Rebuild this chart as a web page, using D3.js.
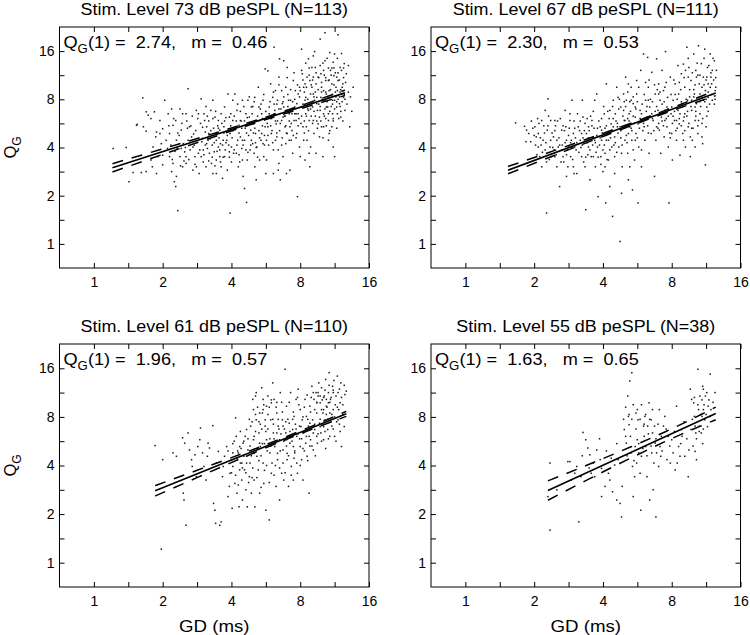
<!DOCTYPE html>
<html><head><meta charset="utf-8">
<script src="https://cdn.jsdelivr.net/npm/d3@7"></script>
<style>body{margin:0;background:#fff}svg{display:block;font-family:"Liberation Sans",Arial,Helvetica,sans-serif}</style>
</head><body><svg id="c" width="750" height="635"></svg>
<script>
// ---------------- DATA ----------------
const titles = ["Stim. Level 73 dB peSPL (N=113)","Stim. Level 67 dB peSPL (N=111)","Stim. Level 61 dB peSPL (N=110)","Stim. Level 55 dB peSPL (N=38)"];
const qg1 = [2.74, 2.30, 1.96, 1.63];          // Q_G(1)
const slopes = [0.46, 0.53, 0.57, 0.65];        // m
const q1Labels = ["2.74","2.30","1.96","1.63"];
const mLabels = ["0.46","0.53","0.57","0.65"];
// fit extent, log2(GD)
const fitLog2GD = [[0.27,3.65],[0.62,3.64],[0.89,3.67],[1.20,3.64]];
// confidence band half-width (log2 units) read at these log2(GD)
const bandLog2GD = [[0.27,1.0,1.8,2.5,3.1,3.65],[0.62,1.3,2.0,2.6,3.1,3.64],[0.89,1.5,2.2,2.9,3.3,3.67],[1.20,1.8,2.4,2.9,3.3,3.64]];
const bandHalf = [[0.086,0.058,0.035,0.026,0.035,0.055],[0.076,0.05,0.032,0.026,0.033,0.055],[0.107,0.075,0.042,0.028,0.035,0.052],[0.2,0.15,0.115,0.1,0.11,0.13]];
const xTickValues = [1,2,4,8,16];
const yTickValues = [1,2,4,8,16];

// scatter points [log2 GD, log2 QG]
const pts73 = [[0.28,1.98],[0.47,2.00],[0.51,1.29],[0.57,1.48],[0.62,2.46],[0.63,2.48],[0.69,1.48],[0.71,3.03],
[0.72,2.43],[0.76,2.34],[0.79,2.67],[0.83,2.60],[0.88,2.74],[0.91,2.32],[0.96,2.29],[0.98,2.08],[0.86,2.01],[0.93,1.81],[1.00,1.84],[0.85,1.60],[0.91,1.46],[0.76,1.50],[1.03,2.98],[1.00,2.39],[0.83,1.74],[1.00,1.64],[0.90,2.22],[0.96,2.56],[0.76,2.74],
[1.08,2.70],[1.13,2.80],[1.15,2.46],[1.19,2.56],[1.20,2.15],[1.25,2.80],[1.27,2.36],[1.30,2.08],[1.32,1.91],[1.34,1.81],[1.10,1.81],[1.13,1.50],[1.17,1.29],[1.19,1.19],[1.20,1.40],[1.22,0.69],[1.25,1.81],[1.29,1.60],[1.34,2.70],[1.37,3.22],[1.39,2.43],[1.42,2.22],[1.44,2.01],[1.47,1.81],[1.49,1.60],[1.51,2.60],[1.53,1.46],[1.07,1.98],[1.15,1.67],[1.27,1.98],[1.37,2.15],[1.34,1.67],[1.44,1.53],[1.49,2.77],[1.10,2.29],
[1.56,3.01],[1.60,2.70],[1.64,2.43],[1.66,2.15],[1.68,1.88],[1.71,1.67],[1.73,1.46],[1.76,2.63],[1.78,2.29],[1.81,2.01],[1.83,1.81],[1.85,1.60],[1.87,1.36],[1.89,2.43],[1.90,2.84],[1.93,2.15],[1.95,3.11],[1.97,1.91],[1.98,0.64],[2.00,1.70],[1.59,1.95],[1.63,1.60],[1.67,2.29],[1.75,1.91],[1.78,1.74],[1.84,2.08],[1.90,1.81],[1.98,2.29],[2.02,2.56],[1.58,2.19],[1.73,2.98],[1.83,2.36],[1.94,1.53],[2.00,2.01],[1.64,2.08],[1.78,1.46],[1.88,2.15],[1.61,2.56],[1.70,2.77],[1.97,2.63],[2.02,2.98],[1.56,1.81],[1.81,2.56],
[2.05,3.11],[2.08,2.77],[2.11,2.46],[2.13,2.22],[2.15,1.98],[2.16,1.74],[2.17,1.40],[2.19,1.15],[2.22,0.86],[2.24,2.98],[2.26,2.63],[2.28,2.36],[2.31,2.08],[2.33,1.88],[2.34,1.60],[2.36,1.33],[2.39,3.25],[2.40,2.84],[2.41,2.56],[2.44,2.29],[2.46,2.08],[2.47,1.81],[2.49,3.63],[2.50,1.46],[2.07,1.88],[2.13,2.56],[2.19,2.15],[2.23,1.74],[2.29,2.84],[2.32,2.49],[2.37,2.01],[2.44,2.70],[2.46,2.98],[2.21,2.70],[2.34,3.04],[2.27,1.95],[2.10,1.60],[2.41,1.74],[2.49,2.43],[2.35,2.29],[2.16,2.98],[2.51,2.15],
[2.53,3.59],[2.57,3.32],[2.60,3.04],[2.62,4.08],[2.63,2.77],[2.65,2.49],[2.66,2.22],[2.68,1.95],[2.69,1.67],[2.70,3.84],[2.71,1.33],[2.73,3.18],[2.74,2.91],[2.75,2.63],[2.76,3.80],[2.78,2.43],[2.79,2.08],[2.80,1.46],[2.81,3.66],[2.83,2.98],[2.84,2.70],[2.85,2.43],[2.87,2.15],[2.89,1.88],[2.90,3.39],[2.92,2.84],[2.94,2.56],[2.95,2.29],[2.96,0.98],[2.97,3.11],[2.99,2.01],[2.55,2.84],[2.58,2.29],[2.61,1.95],[2.67,2.98],[2.69,3.46],[2.75,1.81],[2.81,2.29],[2.86,2.98],[2.91,2.56],[2.53,2.43],[2.61,1.46],[2.73,2.56],[2.79,3.25],[2.84,2.15],[2.93,3.18],[2.97,2.70],[2.57,2.63],[2.64,3.18],[2.76,2.84],[2.88,2.70],[2.95,2.91],[3.00,3.18],[2.51,1.74],[2.68,1.53],[2.85,1.53],
[3.02,4.04],[3.03,3.53],[3.05,3.25],[3.07,2.98],[3.08,2.70],[3.09,2.43],[3.10,2.15],[3.12,3.84],[3.13,1.88],[3.14,3.39],[3.15,3.11],[3.17,3.66],[3.18,2.84],[3.19,2.56],[3.20,2.29],[3.21,3.99],[3.23,3.32],[3.24,3.04],[3.25,2.77],[3.26,2.49],[3.28,2.22],[3.29,4.25],[3.30,3.53],[3.31,3.25],[3.33,2.98],[3.34,2.70],[3.34,2.43],[3.36,4.38],[3.36,3.80],[3.37,3.39],[3.38,3.11],[3.40,2.84],[3.41,2.56],[3.42,2.29],[3.43,3.97],[3.44,3.60],[3.46,3.32],[3.47,2.98],[3.48,3.77],[3.48,2.01],[3.04,2.43],[3.07,3.32],[3.12,2.77],[3.17,3.25],[3.21,2.98],[3.26,3.46],[3.29,2.77],[3.31,2.43],[3.34,3.18],[3.38,2.84],[3.41,3.39],[3.43,3.04],[3.47,2.70],[3.02,2.84],[3.08,3.04],[3.13,2.56],[3.19,3.11],[3.24,2.91],[3.30,3.04],[3.36,2.98],[3.42,3.18],[3.10,3.46],[3.22,3.66],[3.34,3.60],[3.05,2.15],[3.15,2.01],[3.23,1.88],[3.33,1.81],[3.41,2.15],[3.28,2.63],[3.17,2.91],[3.46,2.43],[3.37,2.60],[3.19,3.46],[3.00,1.81],[3.07,1.74],[3.14,1.60],
[3.50,3.94],[3.53,3.46],[3.54,3.18],[3.55,4.34],[3.57,2.91],[3.58,3.66],[3.59,2.63],[3.60,3.95],[3.62,3.32],[3.63,3.04],[3.64,3.74],[3.65,2.77],[3.67,3.53],[3.70,3.15],[3.72,2.43],[3.77,3.25],[3.50,2.98],[3.52,3.25],[3.55,3.39],[3.54,2.70],[3.58,3.15],[3.49,3.49],[3.53,2.84],[3.48,2.60],[3.50,1.81],
[1.12,2.05],[1.18,1.92],[1.22,2.30],[1.28,2.50],[1.31,1.72],[1.36,2.40],[1.40,1.95],[1.43,2.65],[1.46,2.05],[1.48,2.35],[1.52,1.88],[1.55,2.50],[1.57,2.12],[1.59,1.70],[1.62,2.32],[1.63,2.85],[1.65,1.98],[1.67,2.55],[1.69,2.18],[1.72,1.80],[1.74,2.40],[1.75,2.10],[1.77,2.75],[1.79,1.92],[1.80,2.45],[1.82,2.20],[1.84,1.70],[1.86,2.50],[1.87,2.05],[1.89,2.30],[1.91,1.95],[1.92,2.62],[1.94,2.25],[1.96,2.05],[1.99,2.45],[2.01,2.20],[2.03,1.88],[2.04,2.65],[2.06,2.40],[2.08,2.05],[2.09,2.90],[2.11,2.30],[2.12,1.70],[2.14,2.55],[2.16,2.15],[2.18,2.85],[2.20,2.40],[2.21,1.95],[2.23,2.62],[2.25,2.25],[2.26,3.05],[2.28,2.05],[2.30,2.70],[2.32,2.30],[2.33,2.95],[2.35,2.10],[2.37,2.55],[2.38,1.80],[2.40,2.35],[2.42,2.80],[2.43,2.15],[2.45,2.60],[2.47,3.10],[2.48,2.25],[2.50,2.75],[2.52,2.50],[2.54,2.05],[2.56,2.95],[2.58,2.60],[2.59,2.35],[2.61,3.15],[2.62,2.70],[2.64,2.15],[2.66,2.90],[2.67,2.55],[2.69,3.30],[2.70,2.35],[2.72,2.80],[2.74,2.20],[2.76,3.05],[2.77,2.65],[2.79,2.45],[2.81,3.45],[2.82,2.85],[2.84,2.55],[2.86,3.20],[2.88,2.35],[2.89,2.95],[2.91,3.55],[2.92,2.70],[2.94,2.20],[2.96,3.30],[2.98,2.60],[2.99,3.05],
[3.01,2.50],[3.02,3.60],[3.04,2.90],[3.06,2.30],[3.06,3.15],[3.08,3.75],[3.09,2.65],[3.11,3.00],[3.12,2.35],[3.13,3.50],[3.15,2.80],[3.16,3.30],[3.18,2.50],[3.19,3.90],[3.20,3.05],[3.22,2.65],[3.23,3.55],[3.25,2.40],[3.26,3.20],[3.27,2.90],[3.29,3.70],[3.30,2.55],[3.31,3.35],[3.32,3.00],[3.33,2.20],[3.35,3.50],[3.36,2.80],[3.37,3.15],[3.38,2.45],[3.39,3.85],[3.40,3.05],[3.41,2.70],[3.42,3.40],[3.43,2.35],[3.44,3.20],[3.45,2.85],[3.46,3.65],[3.47,3.10],[3.48,2.55],[3.49,3.30],[3.50,2.80],[3.51,3.55],[3.52,3.05],[3.53,2.40],[3.54,3.85],[3.55,3.00],[3.56,2.60],[3.57,3.40],[3.58,2.85],[3.59,3.20],[3.60,3.60],[3.61,2.95],[3.62,2.55],[3.63,3.45],[3.64,3.10],[3.66,3.35],[3.68,2.90],[3.70,3.70],[3.73,3.05],[3.75,2.75],
[1.05,2.15],[1.09,2.45],[1.14,1.75],[1.16,2.60],[1.21,1.98],[1.24,2.25],[1.26,1.62],[1.29,2.70],[1.33,2.00],[1.35,2.55],[1.38,1.75],[1.41,2.45],[1.45,2.28],[1.47,1.65],[1.50,2.10],[1.52,2.70],[1.54,1.95],[1.58,2.42],[1.60,1.85],[1.62,2.05],[1.65,2.65],[1.67,1.72],[1.70,2.35],[1.72,2.05],[1.73,2.60],[1.76,1.62],[1.78,2.15],[1.81,2.40],[1.83,1.95],[1.85,2.70],[1.88,1.80],[1.90,2.55],[1.92,2.10],[1.95,2.35],[1.97,1.80],[1.99,2.70],[2.02,2.35],[2.04,1.95],[2.07,2.55],[2.09,2.15],[2.11,1.85],[2.13,2.75],[2.15,2.40],[2.17,2.05],[2.19,2.55],[2.22,2.30],[2.24,1.90],[2.27,2.50],[2.29,2.15],[2.31,2.85],[2.34,2.40],[2.36,2.00],[2.38,2.65],[2.41,2.20],[2.43,2.90],[2.45,2.45],[2.48,2.05],[2.50,2.60],[2.53,2.25],[2.55,2.70],[2.57,2.45],[2.60,2.10],[2.62,2.90],[2.64,2.55],[2.66,2.30],[2.69,2.80],[2.71,2.50],[2.73,2.05],[2.75,2.95],[2.78,2.65],[2.80,2.30],[2.82,3.10],[2.85,2.75],[2.87,2.50],[2.90,2.25],[2.92,3.00],[2.94,2.70],[2.97,2.45],[2.99,3.25],[3.02,2.65],[3.04,3.40],[3.06,2.55],[3.09,3.25],[3.11,2.80],[3.13,3.65],[3.16,2.65],[3.18,3.40],[3.20,2.75],[3.22,3.15],[3.24,2.55],[3.27,3.45],[3.29,2.85],[3.31,3.15],[3.33,3.75],[3.35,2.65],[3.37,3.45],[3.39,2.95],[3.41,3.65],[3.43,2.75],[3.45,3.50],[3.47,2.90],[3.49,3.65],[3.51,3.15],[3.53,2.95],[3.55,3.55],[3.57,3.05],[3.59,2.75],[3.61,3.25],[3.63,3.65],[3.65,3.00]];

const pts67 = [[0.73,2.51],[0.86,2.44],[0.89,2.36],[0.88,2.12],[0.92,2.29],[0.96,2.55],[1.01,2.43],[1.03,2.22],[1.06,2.01],[1.08,1.81],[1.11,2.56],[1.13,2.15],[1.16,2.77],[1.18,0.64],[1.19,2.36],[1.20,3.01],[1.23,2.01],[1.25,1.81],[1.28,2.22],[1.30,2.56],[1.33,1.60],[1.35,2.01],[1.37,1.19],[1.40,2.36],[1.42,1.81],[1.45,2.77],[1.47,2.15],[1.49,1.60],[1.50,2.01],[1.52,2.56],[1.53,1.81],[1.55,2.98],[1.57,2.29],[1.58,1.46],[0.95,2.12],[1.06,2.29],[1.16,1.95],[1.24,2.56],[1.33,2.15],[1.40,1.95],[1.46,2.43],[1.54,2.15],[1.11,1.60],[1.30,1.81],[1.47,1.40],[1.59,2.01],
[1.62,1.46],[1.64,2.43],[1.67,2.15],[1.69,1.81],[1.70,2.98],[1.71,2.63],[1.74,1.60],[1.75,0.71],[1.76,2.29],[1.79,2.01],[1.81,1.33],[1.83,1.81],[1.84,2.56],[1.86,2.22],[1.88,2.98],[1.89,1.60],[1.91,3.11],[1.92,2.01],[1.93,0.98],[1.96,2.43],[1.97,1.81],[1.98,2.15],[2.00,1.50],[2.02,2.70],[2.03,1.88],[2.04,0.85],[2.05,3.32],[2.07,2.29],[2.08,1.74],[2.10,1.19],[2.12,2.49],[2.13,2.01],[2.14,0.57],[2.15,2.98],[2.17,2.22],[2.17,1.81],[2.18,2.70],[2.20,3.25],[2.21,2.43],[2.23,2.01],[2.25,0.05],[2.26,2.84],[2.27,1.05],[2.28,1.60],[2.30,3.11],[2.31,2.56],[2.32,2.15],[2.33,3.46],[2.34,2.98],[2.36,1.88],[2.37,1.33],[2.38,2.70],[2.39,2.43],[2.41,3.25],[2.42,2.15],[2.43,1.12],[2.44,2.91],[2.46,1.74],[2.47,2.63],[2.48,2.29],[2.49,3.11],[2.51,0.85],[2.52,2.01],[2.54,2.77],[2.55,3.60],[2.56,1.60],[1.79,2.43],[1.88,2.15],[2.08,2.15],[2.17,1.46],[2.25,2.43],[2.37,2.29],[2.44,1.95],[2.51,2.49],[2.10,2.77],[2.30,2.77],[2.41,2.98],[1.69,2.29],[1.98,2.36],[2.15,2.43],[2.32,2.56],[2.47,2.84],[1.86,1.81],[2.03,1.60],[2.27,1.88],[2.39,1.60],[2.56,1.95],[2.22,3.04],[2.37,3.32],[2.49,3.39],
[2.59,3.94],[2.60,2.43],[2.61,2.15],[2.62,2.98],[2.64,2.63],[2.65,3.87],[2.66,3.25],[2.67,1.88],[2.68,2.84],[2.70,2.29],[2.71,3.56],[2.73,2.56],[2.75,1.40],[2.76,3.11],[2.77,2.15],[2.78,3.84],[2.80,2.77],[2.81,3.32],[2.82,2.36],[2.83,2.98],[2.84,1.88],[2.85,2.63],[2.86,3.60],[2.88,3.18],[2.89,2.22],[2.90,2.77],[2.91,3.99],[2.93,2.43],[2.94,3.04],[2.95,2.01],[2.96,0.85],[2.98,3.46],[2.99,2.70],[3.00,2.29],[3.01,1.74],[3.02,2.98],[3.04,2.56],[3.05,3.32],[3.07,2.15],[3.09,2.77],[3.10,3.11],[3.11,2.49],[3.12,1.84],[3.14,3.53],[3.15,2.91],[3.16,2.29],[3.17,3.73],[3.18,2.63],[3.19,3.25],[3.20,2.01],[3.22,4.08],[3.23,2.98],[3.24,2.43],[3.25,3.66],[3.27,1.81],[3.28,3.39],[3.29,2.77],[3.30,2.15],[3.32,3.94],[3.33,3.11],[3.34,2.56],[3.35,3.60],[3.36,2.91],[3.38,2.29],[3.39,4.11],[3.40,3.32],[3.41,2.70],[3.43,3.74],[3.44,3.04],[3.45,2.08],[3.46,3.46],[3.48,4.04],[3.49,3.18],[3.50,2.43],[3.51,2.84],[3.52,3.66],[3.53,3.32],[3.56,3.94],[3.57,3.46],[3.59,2.98],[3.62,3.80],[3.64,3.25],[3.49,1.64],[3.34,2.01],[3.19,2.70],[3.29,2.98],[3.39,2.56],[3.46,2.98],[3.24,3.46],[3.36,3.46],[3.51,3.46],[3.58,3.32],[3.07,2.56],[3.17,2.15],[3.27,2.22],[3.44,2.22],[3.00,2.84],[3.12,2.70],[3.34,2.84],[3.41,3.11],[3.53,3.04],[2.66,2.98],[2.81,3.11],[2.93,2.84],[2.78,2.43],[2.90,2.56],[2.71,2.70],
[0.98,2.40],[1.02,2.05],[1.05,2.60],[1.09,2.20],[1.12,1.90],[1.14,2.45],[1.17,2.10],[1.21,2.65],[1.22,1.75],[1.26,2.30],[1.27,2.00],[1.31,2.45],[1.32,1.85],[1.36,2.20],[1.38,2.60],[1.41,2.05],[1.43,1.70],[1.44,2.35],[1.48,1.95],[1.51,2.40],[1.53,2.10],[1.56,1.75],[1.58,2.55],[1.60,2.20],[1.61,1.95],[1.63,2.70],[1.66,2.35],[1.68,2.00],[1.71,2.20],[1.72,1.70],[1.74,2.50],[1.77,2.10],[1.78,1.85],[1.80,2.35],[1.82,2.65],[1.85,2.05],[1.87,2.40],[1.90,1.90],[1.91,2.25],[1.94,2.55],[1.95,2.05],[1.97,1.65],[1.99,2.30],[2.01,2.85],[2.02,2.05],[2.05,2.45],[2.06,1.75],[2.09,2.60],[2.11,2.20],[2.14,2.85],[2.16,2.05],[2.19,2.55],[2.20,1.90],[2.22,2.30],[2.24,3.00],[2.26,2.20],[2.29,2.65],[2.31,2.40],[2.33,2.85],[2.35,2.10],[2.36,3.15],[2.38,2.55],[2.40,2.75],[2.42,2.35],[2.44,3.05],[2.46,2.50],[2.48,2.80],[2.50,2.20],[2.52,3.25],[2.54,2.60],[2.57,2.90],[2.58,2.35],[2.60,3.10],[2.63,2.75],[2.65,2.45],[2.67,3.40],[2.69,2.65],[2.72,2.95],[2.74,2.35],[2.76,2.75],[2.79,3.20],[2.81,2.50],[2.83,2.70],[2.86,2.90],[2.88,2.45],[2.90,3.25],[2.92,2.60],[2.95,2.80],[2.97,2.30],[2.99,3.10],
[3.01,2.50],[3.03,3.40],[3.04,2.75],[3.06,2.35],[3.08,3.00],[3.09,3.70],[3.11,2.60],[3.13,3.20],[3.14,2.45],[3.16,2.85],[3.18,3.45],[3.19,2.35],[3.21,3.00],[3.22,2.65],[3.24,3.85],[3.25,2.50],[3.26,3.20],[3.28,2.85],[3.30,3.55],[3.31,2.40],[3.32,3.05],[3.34,3.30],[3.35,2.65],[3.37,3.75],[3.38,2.45],[3.39,3.00],[3.41,3.50],[3.42,2.85],[3.44,3.25],[3.45,2.60],[3.47,3.85],[3.48,2.95],[3.50,3.40],[3.51,2.65],[3.53,3.15],[3.54,3.70],[3.55,2.90],[3.57,3.55],[3.58,3.10],[3.60,3.85],[3.61,3.40],[3.63,3.00],[3.65,3.60],
[1.00,2.25],[1.04,1.85],[1.07,2.50],[1.10,2.05],[1.15,2.30],[1.18,1.70],[1.20,2.45],[1.24,2.15],[1.29,1.95],[1.30,2.35],[1.34,2.55],[1.37,2.05],[1.39,1.70],[1.42,2.45],[1.45,2.10],[1.47,1.85],[1.50,2.25],[1.52,2.70],[1.55,2.00],[1.57,1.60],[1.59,2.40],[1.62,2.10],[1.65,1.90],[1.67,2.55],[1.70,2.05],[1.73,2.35],[1.75,1.80],[1.77,2.60],[1.79,2.20],[1.81,1.95],[1.84,2.45],[1.86,2.75],[1.89,2.10],[1.92,2.40],[1.93,1.80],[1.96,2.20],[1.98,2.60],[2.00,1.95],[2.03,2.40],[2.05,2.15],[2.07,2.75],[2.10,1.95],[2.12,2.35],[2.15,2.60],[2.18,2.10],[2.21,2.50],[2.23,2.80],[2.26,2.35],[2.28,2.05],[2.31,2.95],[2.34,2.25],[2.36,2.60],[2.39,2.95],[2.41,2.40],[2.44,2.65],[2.47,2.15],[2.50,2.95],[2.53,2.40],[2.56,2.70],[2.59,2.50],[2.62,3.35],[2.64,2.85],[2.66,2.30],[2.69,3.00],[2.72,2.60],[2.75,3.30],[2.78,2.85],[2.80,2.40],[2.83,3.15],[2.86,2.55],[2.89,2.95],[2.92,3.35],[2.95,2.65],[2.98,2.20],[3.02,2.65],[3.05,3.10],[3.08,2.40],[3.11,3.35],[3.14,2.95],[3.17,2.55],[3.20,3.60],[3.23,2.75],[3.26,3.05],[3.29,2.40],[3.32,3.20],[3.35,2.75],[3.38,3.50],[3.41,2.95],[3.44,2.50],[3.47,3.30],[3.50,3.00],[3.53,2.75],[3.56,3.25],[3.59,3.60],[3.62,2.90],[3.64,3.45]];

const pts61 = [[0.89,2.41],[1.00,2.12],[0.98,0.28],[1.15,2.26],[1.20,2.19],[1.29,2.57],[1.30,1.43],[1.31,1.29],[1.32,2.46],[1.34,0.77],[1.37,2.67],[1.39,2.32],[1.42,2.12],[1.43,1.98],[1.47,2.22],[1.49,1.77],[1.51,2.39],[1.54,2.53],[1.55,2.77],[1.58,2.26],[1.60,1.98],[1.63,1.70],[1.65,2.19],[1.66,2.46],[1.68,2.36],[1.73,2.82],[1.74,1.22],[1.76,1.08],[1.77,0.81],[1.78,2.05],[1.81,2.29],[1.83,0.77],[1.85,0.84],[1.87,1.77],[1.88,1.98],[1.90,2.19],[1.93,2.39],[1.95,1.36],[1.97,1.57],[1.98,1.84],[2.00,2.12],[2.01,1.12],[2.02,1.98],[2.05,1.63],[2.06,2.98],[2.07,2.60],[2.08,1.43],[2.10,2.26],[2.11,1.15],[2.12,1.91],[2.13,2.05],[2.15,1.70],[2.16,1.29],[2.17,2.46],[2.18,2.19],[2.19,1.91],[2.21,1.50],[2.22,2.74],[2.23,1.15],[2.24,2.32],[2.26,1.77],[2.27,2.05],[2.28,2.81],[2.29,1.43],[2.31,3.36],[2.32,2.53],[2.33,1.70],[2.34,1.15],[2.35,3.43],[2.36,2.94],[2.37,2.19],[2.39,1.91],[2.40,2.67],[2.41,1.43],[2.42,2.39],[2.44,3.60],[2.45,3.08],[2.46,2.05],[2.47,1.63],[2.49,2.81],[2.50,1.08],[2.51,2.53],[2.53,3.43],[2.55,0.88],[2.56,2.26],[2.57,2.94],[2.58,1.84],[2.60,3.70],[2.61,2.67],[2.62,3.36],[2.63,2.39],[2.65,1.57],[2.66,3.08],[2.67,2.12],[2.68,2.81],[2.70,1.29],[2.70,2.53],[2.71,3.50],[2.73,1.84],[2.74,2.94],[2.75,2.32],[2.76,1.70],[2.78,3.98],[2.79,2.67],[2.80,3.22],[2.81,2.12],[2.83,1.57],[2.84,2.87],[2.85,2.46],[2.86,3.50],[2.87,1.98],[2.89,2.74],[2.90,1.70],[2.91,3.01],[2.92,2.26],[2.94,3.36],[2.95,2.60],[2.96,1.84],[2.97,3.57],[2.99,2.81],[3.00,2.39],[3.00,3.15],[3.02,2.12],[3.03,2.94],[3.04,1.70],[3.05,2.67],[3.07,3.36],[3.08,2.46],[3.09,3.01],[3.10,2.19],[3.12,2.81],[3.13,1.43],[3.14,3.22],[3.15,2.53],[3.17,3.63],[3.18,2.94],[3.19,2.32],[3.20,3.36],[3.21,2.74],[3.23,3.50],[3.24,3.08],[3.25,2.46],[3.26,3.43],[3.28,2.87],[3.29,3.29],[3.30,2.67],[3.31,3.60],[3.33,3.08],[3.34,2.53],[3.35,3.43],[3.36,2.94],[3.37,3.77],[3.38,3.22],[3.40,2.74],[3.41,3.50],[3.42,3.91],[3.43,3.08],[3.44,3.36],[3.46,2.81],[3.47,3.63],[3.48,3.15],[3.50,2.60],[3.52,3.43],[3.54,3.84],[3.55,2.94],[3.57,3.57],[3.58,3.29],[3.60,2.39],[3.65,3.46],[3.67,3.53],[3.14,2.87],[3.24,3.29],[3.34,3.15],[3.41,3.29],[3.48,3.50],[3.29,3.43],[3.19,2.67],[3.38,3.36],[2.36,3.50],[2.46,3.36],[2.51,3.22],[2.32,3.15],[2.41,3.08],[2.49,2.94],[2.58,3.29],[2.66,2.67],[2.80,2.53],[2.90,2.39],[2.75,2.81],[2.41,2.46],[2.22,2.19],[2.12,2.39],[2.02,2.26],[2.32,2.26],
[1.95,2.30],[2.00,1.85],[2.04,2.50],[2.08,2.15],[2.10,1.60],[2.14,2.35],[2.16,1.95],[2.20,2.60],[2.22,2.05],[2.25,1.65],[2.27,2.40],[2.30,2.90],[2.31,1.95],[2.33,2.25],[2.35,2.70],[2.37,1.75],[2.38,3.20],[2.40,2.10],[2.42,2.85],[2.43,1.55],[2.45,2.45],[2.47,3.25],[2.48,1.90],[2.50,2.70],[2.52,2.30],[2.53,3.05],[2.55,1.65],[2.56,2.55],[2.58,3.35],[2.59,2.05],[2.61,2.85],[2.62,1.80],[2.64,2.45],[2.65,3.20],[2.67,2.25],[2.68,2.95],[2.70,1.95],[2.72,2.65],[2.73,3.30],[2.75,2.05],[2.77,2.75],[2.78,1.85],[2.80,2.40],[2.82,2.95],[2.83,2.20],[2.85,2.70],[2.87,1.80],[2.88,2.50],[2.90,3.10],[2.92,2.30],[2.93,2.85],[2.95,2.05],[2.97,2.65],[2.98,3.25],[3.00,2.00],[3.02,2.55],[3.04,3.00],[3.06,2.30],[3.08,2.75],[3.10,3.45],[3.11,2.10],[3.13,2.60],[3.15,3.10],[3.17,2.40],[3.19,3.50],[3.21,2.85],[3.22,2.20],[3.24,3.30],[3.26,2.65],[3.27,3.70],[3.29,2.95],[3.31,2.50],[3.32,3.35],[3.34,2.80],[3.36,3.55],[3.37,2.35],[3.39,3.20],[3.40,2.95],[3.42,3.65],[3.43,2.60],[3.45,3.40],[3.46,3.05],[3.48,2.75],[3.49,3.75],[3.51,3.25],[3.53,2.90],[3.55,3.50],[3.56,3.15],[3.58,2.70],[3.60,3.40],[3.62,3.05],[3.64,3.65],
[2.02,2.45],[2.06,1.80],[2.09,2.30],[2.13,2.70],[2.15,2.05],[2.18,2.50],[2.21,1.85],[2.24,2.55],[2.26,2.95],[2.29,2.20],[2.30,1.75],[2.33,2.60],[2.35,3.05],[2.38,2.35],[2.40,2.90],[2.43,2.20],[2.44,2.75],[2.46,3.15],[2.48,2.45],[2.51,2.00],[2.53,2.75],[2.55,3.20],[2.57,2.40],[2.60,2.95],[2.62,2.55],[2.64,2.00],[2.66,3.30],[2.69,2.75],[2.71,2.30],[2.74,3.10],[2.76,2.50],[2.79,2.90],[2.81,2.25],[2.84,3.30],[2.86,2.60],[2.89,2.95],[2.91,2.15],[2.94,2.75],[2.96,3.40],[2.99,2.55],[3.01,2.80],[3.04,2.35],[3.06,3.20],[3.09,2.60],[3.11,2.95],[3.14,2.40],[3.16,3.40],[3.19,2.80],[3.21,3.15],[3.24,2.60],[3.26,3.50],[3.29,2.80],[3.31,3.15],[3.34,3.40],[3.36,2.70],[3.38,3.05],[3.41,2.55],[3.43,3.30],[3.45,2.90],[3.48,3.55],[3.50,3.00],[3.52,2.50],[3.54,3.20],[3.57,2.85],[3.59,3.70],[3.62,3.25],[3.64,2.80]];

const pts55 = [[1.23,2.05],[1.23,0.67],[1.20,1.36],[1.33,1.50],[1.49,2.08],[1.52,2.08],[1.54,1.70],[1.59,1.84],[1.62,1.98],[1.65,0.84],[1.68,1.77],[1.71,2.68],[1.75,2.53],[1.78,2.36],[1.81,2.22],[1.83,1.84],[1.86,2.05],[1.88,1.77],[1.91,2.32],[1.96,2.12],[1.98,1.94],[1.98,1.36],[2.03,1.57],[2.08,1.84],[2.10,1.70],[2.14,1.46],[2.17,2.01],[2.20,1.29],[2.22,2.12],[2.25,1.22],[2.27,0.94],[2.28,1.57],[2.31,2.74],[2.33,2.60],[2.34,2.46],[2.36,3.43],[2.37,3.01],[2.38,2.84],[2.39,3.74],[2.41,2.26],[2.42,3.91],[2.43,1.98],[2.44,1.36],[2.46,1.77],[2.47,2.39],[2.48,3.08],[2.49,2.05],[2.50,2.53],[2.51,2.94],[2.52,2.26],[2.54,1.84],[2.55,1.08],[2.56,2.19],[2.59,2.81],[2.60,2.60],[2.61,3.01],[2.62,2.39],[2.64,1.77],[2.65,2.81],[2.67,3.29],[2.68,1.29],[2.70,2.94],[2.71,2.26],[2.72,2.67],[2.73,1.50],[2.75,2.81],[2.76,2.46],[2.77,0.94],[2.78,2.26],[2.81,1.98],[2.82,3.15],[2.83,2.39],[2.84,2.19],[2.85,2.60],[2.88,2.81],[2.90,3.01],[2.93,2.12],[2.95,2.60],[2.98,2.05],[3.00,2.53],[3.02,2.26],[3.05,1.91],[3.07,3.22],[3.10,2.39],[3.12,2.19],[3.14,2.74],[3.15,2.60],[3.19,2.19],[3.24,1.77],[3.25,2.32],[3.27,3.57],[3.28,2.74],[3.29,3.36],[3.32,3.29],[3.33,3.01],[3.34,2.81],[3.35,2.67],[3.36,2.12],[3.38,3.98],[3.39,3.15],[3.40,2.81],[3.41,3.43],[3.43,2.67],[3.44,3.01],[3.45,3.63],[3.46,3.15],[3.48,2.94],[3.49,3.43],[3.51,3.50],[3.53,3.22],[3.56,3.01],[3.63,3.50],[3.56,3.88],[3.46,3.57],[3.34,2.29],
[2.30,2.95],[2.33,3.20],[2.35,2.20],[2.38,3.05],[2.40,2.60],[2.42,2.95],[2.44,3.25],[2.45,2.10],[2.48,2.75],[2.50,3.15],[2.52,2.45],[2.54,2.95],[2.56,3.25],[2.58,2.35],[2.60,2.85],[2.62,3.05],[2.64,2.20],[2.66,2.65],[2.68,2.95],[2.70,2.40],[2.72,3.15],[2.74,2.05],[2.77,2.55],[2.80,2.85],[2.86,2.30],[2.92,2.75],[2.97,2.40],[3.04,2.70],[3.08,2.05],[3.13,2.45],[3.18,2.90],[3.22,2.55],[3.30,2.95],[3.33,3.40],[3.36,2.55],[3.38,3.25],[3.40,2.70],[3.42,3.05],[3.44,3.35],[3.46,2.75],[3.47,3.25],[3.50,3.05],[3.52,2.80],[3.54,3.35],[3.57,3.15],[3.60,3.30],[3.45,2.45],[3.31,2.40],[1.95,2.55],[2.05,2.30],[2.12,2.15],[1.70,2.20],[1.80,1.95],[2.20,2.45]];
const allPoints = [pts73, pts67, pts61, pts55];

// ---------------- LAYOUT ----------------
const frames = [
  {x0:59.5, y0:27,  w:309.5, h:241, yLabel:true,  xLabel:false},
  {x0:431,  y0:27,  w:309.5, h:241, yLabel:false, xLabel:false},
  {x0:59.5, y0:344, w:309.5, h:243, yLabel:true,  xLabel:true},
  {x0:431,  y0:344, w:309.5, h:243, yLabel:false, xLabel:true}
];
const svg = d3.select("#c");
const minorLog = d3.range(0, 4.01, 0.5);
const NB = "\u00A0";
const SX = 1.1; // horizontal stretch of the original typeface

frames.forEach((f, i) => {
  const g = svg.append("g").attr("transform", `translate(${f.x0},${f.y0})`);
  const x = d3.scaleLog().base(2).domain([Math.pow(2,-0.5), 16]).range([0, f.w]);
  const y = d3.scaleLog().base(2).domain([Math.pow(2,-0.5), Math.pow(2,4.5)]).range([f.h, 0]);
  const tickVals = minorLog.map(v => Math.pow(2, v));
  const fmtX = d => xTickValues.includes(d) ? String(d) : "";
  const fmtY = d => yTickValues.includes(d) ? String(d) : "";

  const cid = "clip" + i;
  g.append("clipPath").attr("id", cid).append("rect").attr("width", f.w).attr("height", f.h);

  const ax = [
    g.append("g").attr("transform", `translate(0,${f.h})`).call(d3.axisBottom(x).tickValues(tickVals).tickSize(-5).tickPadding(9).tickFormat(fmtX)),
    g.append("g").call(d3.axisTop(x).tickValues(tickVals).tickSize(-5).tickFormat("")),
    g.append("g").call(d3.axisLeft(y).tickValues(tickVals).tickSize(-5).tickPadding(5).tickFormat(fmtY)),
    g.append("g").attr("transform", `translate(${f.w},0)`).call(d3.axisRight(y).tickValues(tickVals).tickSize(-5).tickFormat(""))
  ];
  ax.forEach(a => {
    a.select(".domain").remove();
    a.selectAll(".tick line").attr("stroke", "#000").attr("stroke-width", 1);
    a.selectAll("text").attr("font-size", 14).attr("fill", "#000").attr("font-family", '"Liberation Sans",Arial,sans-serif');
  });

  const pg = g.append("g").attr("clip-path", `url(#${cid})`);
  pg.selectAll("rect").data(allPoints[i]).join("rect")
    .attr("x", d => x(Math.pow(2, d[0])) - 0.75)
    .attr("y", d => y(Math.pow(2, d[1])) - 0.75)
    .attr("width", 1.5).attr("height", 1.5).attr("fill", "#1a1a1a");

  const a0 = Math.log2(qg1[i]), m = slopes[i];
  const line = d3.line().x(d => x(Math.pow(2, d[0]))).y(d => y(Math.pow(2, d[1])));
  const fitPts = fitLog2GD[i].map(u => [u, a0 + m*u]);
  const upper = bandLog2GD[i].map((u, k) => [u, a0 + m*u + bandHalf[i][k]]);
  const lower = bandLog2GD[i].map((u, k) => [u, a0 + m*u - bandHalf[i][k]]);
  const curved = d3.line().x(d => x(Math.pow(2, d[0]))).y(d => y(Math.pow(2, d[1]))).curve(d3.curveMonotoneX);
  [upper, lower].forEach(b => {
    pg.append("path").attr("d", curved(b)).attr("fill", "none").attr("stroke", "#000")
      .attr("stroke-width", 1.5).attr("stroke-dasharray", "11,9");
  });
  pg.append("path").attr("d", line(fitPts)).attr("fill", "none").attr("stroke", "#000").attr("stroke-width", 1.6);

  g.append("rect").attr("width", f.w).attr("height", f.h).attr("fill", "none").attr("stroke", "#000").attr("stroke-width", 1);

  const t = g.append("g").attr("transform", `translate(4,21) scale(${SX},1)`)
    .append("text").attr("font-size", 16.5).attr("fill", "#000");
  t.append("tspan").text("Q");
  t.append("tspan").attr("dy", 5).attr("font-size", 12).text("G");
  t.append("tspan").attr("dy", -5).text(`(1) =${NB}${NB}${q1Labels[i]},${NB}${NB}${NB}m =${NB}${NB}${mLabels[i]}`);

  svg.append("g").attr("transform", `translate(${f.x0 + f.w/2},${f.y0 - 12}) scale(${SX},1)`)
    .append("text").attr("text-anchor", "middle").attr("font-size", 16.3).attr("fill", "#000").text(titles[i]);

  if (f.yLabel) {
    const yl = svg.append("text").attr("transform", `translate(16,${f.y0 + f.h/2}) rotate(-90)`)
      .attr("text-anchor", "middle").attr("font-size", 16.5).attr("fill", "#000");
    yl.append("tspan").text("Q");
    yl.append("tspan").attr("dy", 5).attr("font-size", 12).text("G");
  }
  if (f.xLabel) {
    svg.append("g").attr("transform", `translate(${f.x0 + f.w/2},632) scale(${SX},1)`)
      .append("text").attr("text-anchor", "middle").attr("font-size", 17).attr("fill", "#000").text("GD (ms)");
  }
});
</script></body></html>
